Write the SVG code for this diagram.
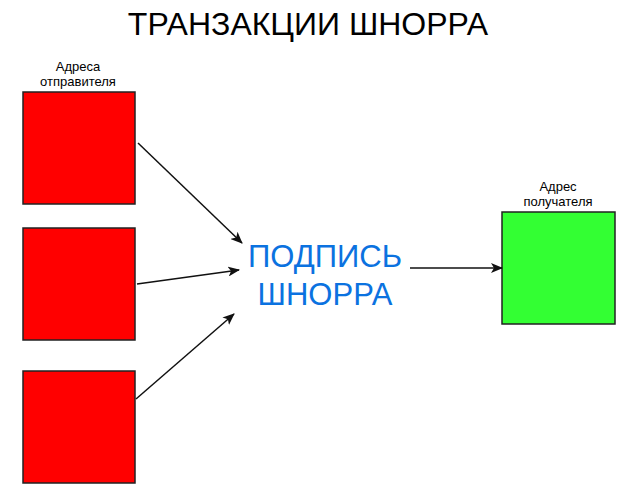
<svg xmlns="http://www.w3.org/2000/svg" width="639" height="502" viewBox="0 0 639 502">
<defs>
<style>
.box{stroke:#222;stroke-width:1.5}
.red{fill:#ff0000}
.green{fill:#33ff33}
.lbl{font-family:"Liberation Sans",Arial,sans-serif;font-size:13px;fill:#000;text-anchor:middle}
.title{font-family:"Liberation Sans",Arial,sans-serif;font-size:32px;fill:#000;text-anchor:middle}
.sig{font-family:"Liberation Sans",Arial,sans-serif;font-size:31px;fill:#0b72e0;text-anchor:middle}
.conn{stroke:#111;stroke-width:1.5;fill:none;marker-end:url(#ah)}
</style>
<marker id="ah" markerWidth="12" markerHeight="10" refX="11" refY="5" orient="auto" markerUnits="userSpaceOnUse">
<path d="M0,0 L12,5 L0,10 L3,5 Z" fill="#111"/>
</marker>
</defs>
<rect width="639" height="502" fill="#fff"/>
<text class="title" x="308" y="35">ТРАНЗАКЦИИ ШНОРРА</text>
<g id="sender1">
<rect class="box red" x="23" y="92" width="112" height="112"/>
<text class="lbl" x="78" y="71">Адреса</text>
<text class="lbl" x="78" y="86">отправителя</text>
</g>
<g id="sender2">
<rect class="box red" x="23" y="228" width="112" height="112"/>
</g>
<g id="sender3">
<rect class="box red" x="23" y="371" width="112" height="112"/>
</g>
<g id="signature">
<text class="sig" x="325" y="267">ПОДПИСЬ</text>
<text class="sig" x="325" y="305">ШНОРРА</text>
</g>
<g id="receiver">
<rect class="box green" x="502" y="212" width="113" height="112"/>
<text class="lbl" x="558" y="191">Адрес</text>
<text class="lbl" x="558" y="206">получателя</text>
</g>
<g id="connectors">
<line class="conn" x1="138" y1="143" x2="242" y2="243"/>
<line class="conn" x1="137" y1="284" x2="239" y2="270"/>
<line class="conn" x1="136" y1="399" x2="234" y2="314"/>
<line class="conn" x1="410" y1="268" x2="502" y2="268"/>
</g>
</svg>
